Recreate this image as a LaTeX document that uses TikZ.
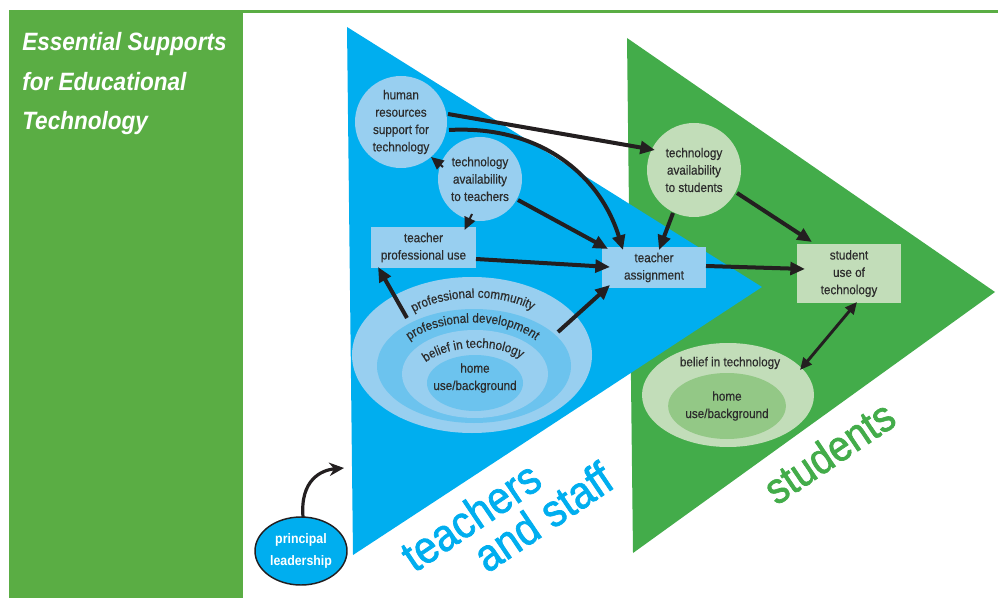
\documentclass[tikz,border=0pt]{standalone}
\usepackage{fontspec}
\setmainfont{Liberation Sans}[FakeStretch=0.9]
\newfontfamily\nodefont{Liberation Sans}[FakeStretch=0.9, FakeBold=0.4]
\newfontfamily\bigfont{Liberation Sans}[FakeStretch=0.9, FakeBold=1.6]
\usetikzlibrary{shapes.geometric,arrows.meta,decorations.text,calc}
\definecolor{panelgreen}{HTML}{5AAD44}
\definecolor{trigreen}{HTML}{43AC4A}
\definecolor{triblue}{HTML}{00AEEF}
\definecolor{lblue}{HTML}{98CFF0}
\definecolor{mblue}{HTML}{6CC3EE}
\definecolor{lgreen}{HTML}{C2DDB9}
\definecolor{mgreen}{HTML}{93C886}
\definecolor{txt}{HTML}{2C2C2C}
\definecolor{arr}{HTML}{231F20}
\tikzset{
  tnode/.style={font=\nodefont\fontsize{9.75}{13}\selectfont, text=txt, align=center, inner sep=0pt},
  bcirc/.style={tnode, circle, fill=lblue, minimum size=#1},
  gcirc/.style={tnode, circle, fill=lgreen, minimum size=#1},
  brect/.style={tnode, rectangle, fill=lblue},
  grect/.style={tnode, rectangle, fill=lgreen},
  ell/.style={ellipse, inner sep=0pt, fill=#1},
  arw/.style={draw=arr, line width=3pt, -{Triangle[length=11pt,width=9.5pt]}},
  sarw/.style={draw=arr, line width=1.5pt, -{Triangle[length=9.5pt,width=8.5pt]}},
  darw/.style={draw=arr, line width=2.2pt, {Triangle[length=9pt,width=8pt]}-{Triangle[length=9pt,width=8pt]}},
  ttl/.style={anchor=base west, text=white, inner sep=0pt, font=\fontsize{18.8}{22}\selectfont\bfseries\itshape},
  big/.style={inner sep=0pt, rotate=34, font=\bigfont\fontsize{34}{30.75}\selectfont},
  arctext/.style={decorate, decoration={text along path, text align=center, text color=txt, text={|\nodefont\fontsize{9.75}{12}\selectfont|#1}}}
}
\begin{document}
\begin{tikzpicture}[x=0.75pt, y=-0.75pt]
\useasboundingbox (0,0) rectangle (998,598);
\fill[white] (0,0) rectangle (998,598);
% left panel and top rule
\fill[panelgreen] (9,10) rectangle (243,598);
\draw[panelgreen, line width=1.9pt] (243,11.5) -- (998,11.5);
\node[ttl] (t1) at (22,51) {Essential Supports};
\node[ttl] (t2) at (22,91) {for Educational};
\node[ttl] (t3) at (22,130) {Technology};
% triangles
\fill[trigreen] (627,38) -- (995,292) -- (633,553) -- cycle;
\fill[triblue] (347,27) -- (762,287) -- (353,555) -- cycle;
% teacher nested ellipses
\node[ell=lblue, minimum width=180pt, minimum height=117pt] (ec1) at (472,355) {};
\node[ell=mblue, minimum width=145.5pt, minimum height=85.5pt] (ec2) at (474,366) {};
\node[ell=lblue, minimum width=109.5pt, minimum height=66pt] (ec3) at (475,374) {};
\node[ell=mblue, minimum width=72pt, minimum height=42pt] (ec4) at (475,383) {};
\node[tnode] (ec4t) at (475,378) {home\\use/background};
\path[arctext={professional community}] (408,316) .. controls (440,293) and (505,291) .. (538,314);
\path[arctext={professional development}] (404,345) .. controls (435,316) and (510,314) .. (541,345);
\path[arctext={belief in technology}] (421,366) .. controls (445,344) and (500,341) .. (526,362);
% student ellipses
\node[ell=lgreen, minimum width=129pt, minimum height=78pt] (eg1) at (728,395) {};
\node[ell=mgreen, minimum width=82.5pt, minimum height=49.5pt, tnode] (eg2) at (727,406) {home\\use/background};
\node[tnode] (eg1t) at (730,363) {belief in technology};
% main nodes
\node[bcirc=69pt] (hr) at (401,122) {human\\resources\\support for\\technology};
\node[bcirc=63pt] (tat) at (480,179) {technology\\availability\\to teachers};
\node[gcirc=70.5pt] (tas) at (694,170) {technology\\availability\\to students};
\node[brect, minimum width=78.75pt, minimum height=30.75pt] (tpu) at (423.5,247.5) {teacher\\professional use};
\node[brect, minimum width=78pt, minimum height=30.75pt] (ta) at (654,267.5) {teacher\\assignment};
\node[grect, minimum width=78pt, minimum height=44.25pt] (su) at (849,273.5) {student\\use of\\technology};
% principal leadership
\node[ellipse, draw=arr, line width=1.1pt, fill=triblue, inner sep=0pt, minimum width=69pt, minimum height=51pt,
      text=white, align=center, font=\fontsize{10.3}{16}\selectfont\bfseries] (pl) at (301,551) {principal\\leadership};
\coordinate (plend) at (344,468);
% big labels
\node[big, text=triblue, align=left] (lt) at (506.5,516.5) {teachers\\\hspace*{45pt}and staff};
\node[big, text=trigreen, font=\bigfont\fontsize{32.4}{34}\selectfont] (ls) at (829,452) {students};
% connectors
\draw[arw] ($(hr)+(47,-8)$) -- ($(tas)+(-39,-20)$);
\draw[arw] ($(hr)+(48,8)$) .. controls ($(hr)+(139,3)$) and ($(ta)+(-54,-92.5)$) .. ($(ta)+(-31,-17.5)$);
\draw[sarw] ($(tat)+(-37,-12)$) -- ($(hr)+(30,35)$);
\draw[sarw] ($(tat)+(-8,35)$) -- ($(tpu)+(41,-17.5)$);
\draw[arw] ($(tat)+(38,21)$) -- ($(ta)+(-46,-18.5)$);
\draw[arw] ($(tpu)+(52.5,11.5)$) -- ($(ta)+(-44,-0.5)$);
\draw[arw] ($(ec1)+(-65,-37)$) -- ($(tpu)+(-45.5,19.5)$);
\draw[arw] ($(ec1)+(86,-23)$) -- ($(ta)+(-44,17.5)$);
\draw[arw] ($(tas)+(-21,43)$) -- ($(ta)+(5,-17.5)$);
\draw[arw] ($(tas)+(43,23)$) -- ($(su)+(-37,-31.5)$);
\draw[arw] ($(ta)+(52,-1.5)$) -- ($(su)+(-44,-4.5)$);
\draw[darw] ($(su)+(8,28.5)$) -- ($(eg1)+(72,-25)$);
\draw[draw=arr, line width=2.4pt, -{Stealth[length=11pt,width=10pt]}] ($(pl)+(2,-34)$) .. controls ($(pl)+(-1,-71)$) and ($(plend)+(-23,2)$) .. (plend);
\end{tikzpicture}
\end{document}
